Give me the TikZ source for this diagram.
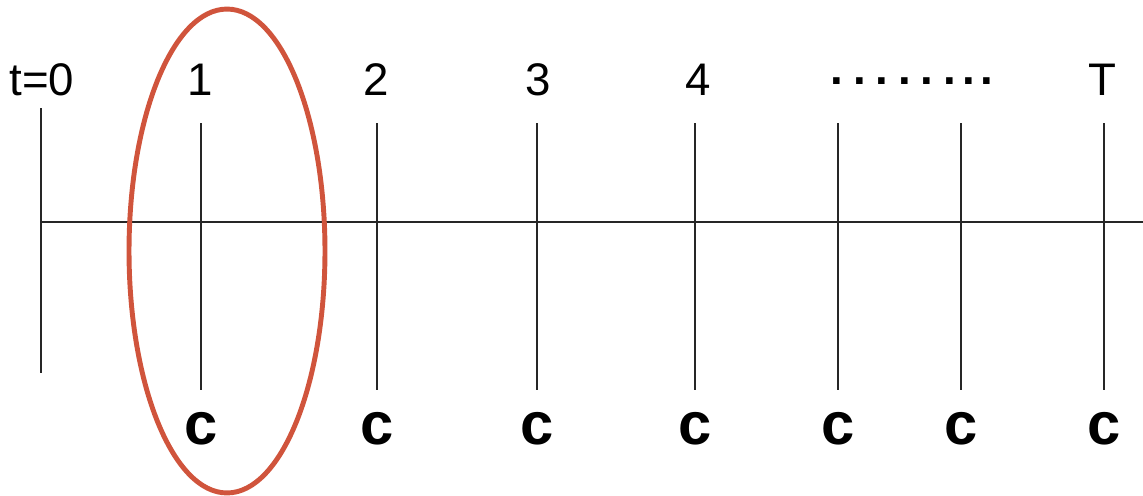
\documentclass[tikz,border=0pt]{standalone}
\usepackage{fontspec}
\setmainfont{Liberation Sans}
\usetikzlibrary{calc}
\definecolor{ringred}{RGB}{208,84,60}
\newcommand{\gapdots}{\textbf{.\hspace{5.6pt}.\hspace{5.6pt}.\hspace{5.6pt}.\hspace{5.6pt}.\hspace{5.6pt}.\hspace{4pt}.\hspace{3pt}.}}

\begin{document}
\begin{tikzpicture}[x=0.02cm, y=-0.02cm,
  tick/.style={line width=1.1pt, black!85},
  timelbl/.style={font=\fontsize{26}{28}\selectfont, anchor=base},
  cashlbl/.style={font=\fontsize{34}{36}\selectfont\bfseries, anchor=base}]
  \useasboundingbox (0,0) rectangle (1143,495);

  % Time axis
  \coordinate (axisL) at (40,222);
  \coordinate (axisR) at (1143,222);
  \draw[tick] (axisL) -- (axisR);

  % Origin tick
  \node[timelbl] (lbl0) at (42,95) {t=0};
  \coordinate (top0) at (41,108);
  \coordinate (bot0) at (41,373);
  \draw[tick] (top0) -- (bot0);

  % Period ticks with cash flows
  \foreach \x/\lx/\t [count=\i] in {201/200/1, 377/376/2, 537/538/3, 695/698/4, 838/838/{}, 961/961/{}, 1104/1102/T} {
    \node[timelbl] (lbl\i) at (\lx,95) {\t};
    \coordinate (top\i) at (\x,123);
    \coordinate (bot\i) at (\x,390);
    \draw[tick] (top\i) -- (bot\i);
    \node[cashlbl] (c\i) at (\x,444) {c};
  }

  % Gap between period 4 and T
  \node[timelbl] (gap) at (912,84) {\gapdots};

  % First period circled
  \draw[ringred, line width=2.8pt] (227,251) ellipse [x radius=1.96cm, y radius=4.84cm];
\end{tikzpicture}
\end{document}
